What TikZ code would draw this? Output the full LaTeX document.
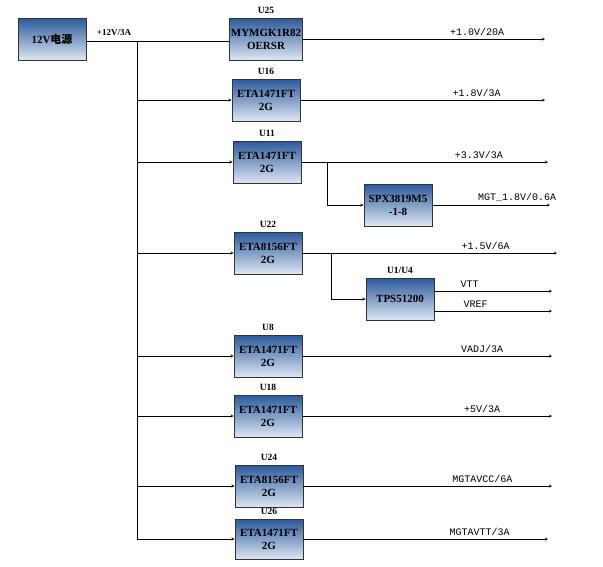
\documentclass[tikz,border=0pt]{standalone}
\usepackage{fontspec}
\setmainfont{Liberation Serif}
\newfontfamily\cjk{Noto Sans CJK SC}
\newfontfamily\labfont{Liberation Mono}
\usetikzlibrary{arrows}
\definecolor{chiptop}{HTML}{2B5A9B}
\definecolor{chipbot}{HTML}{DCE6F3}
\tikzset{
    x=1pt, y=-1pt,
    >=stealth, % small filled arrow heads
    chip/.style={draw=black!80, thick, minimum width=68pt, minimum height=42pt, inner sep=1pt,
        top color=chiptop, bottom color=chipbot, align=center, font=\bfseries\fontsize{11}{13}\selectfont},
    ref/.style={font=\bfseries\fontsize{9.5}{11}\selectfont, above},
    rail/.style={font=\labfont\fontsize{10}{11}\selectfont},
}
\begin{document}
\begin{tikzpicture}
\useasboundingbox (0,0) rectangle (603,566);
% source and bus
\node[chip] (src) at (52,39) {12V{\cjk 电源}};
\coordinate (bus) at (137,41);
\coordinate (busend) at (137,540);
\node[font=\bfseries\fontsize{9}{10}\selectfont] at (114,33) {+12V/3A};
\draw (src.east |- bus) -- (bus) -- (busend);
% regulators
\node[chip] (u25) at (266,39) {MYMGK1R82\\OERSR};
\node[chip] (u16) at (266,100) {ETA1471FT\\2G};
\node[chip] (u11) at (267,162) {ETA1471FT\\2G};
\node[chip] (u22) at (268,253) {ETA8156FT\\2G};
\node[chip] (u8) at (268,356) {ETA1471FT\\2G};
\node[chip] (u18) at (268,416) {ETA1471FT\\2G};
\node[chip] (u24) at (269,486) {ETA8156FT\\2G};
\node[chip, minimum height=40pt] (u26) at (269,539) {ETA1471FT\\2G};
\node[chip] (spx) at (398,205) {SPX3819M5\\-1-8};
\node[chip] (tps) at (400,299) {TPS51200};
\foreach \u/\t in {u25/U25, u16/U16, u11/U11, u22/U22, u8/U8, u18/U18, u24/U24, u26/U26, tps/{U1/U4}}
    \node[ref] at (\u.north) {\t};
% feeds from the bus
\draw (bus) -- (u25.west |- bus);
\foreach \u in {u16, u11, u22, u8, u18, u24, u26}
    \draw[->] (bus |- \u.west) -- (\u.west);
% outputs
\foreach \u/\x/\t in {u25/545/{+1.0V/20A}, u16/545/{+1.8V/3A}, u11/548/{+3.3V/3A}, spx/550/{MGT\_1.8V/0.6A},
    u22/557/{+1.5V/6A}, u8/552/{VADJ/3A}, u18/552/{+5V/3A}, u24/552/{MGTAVCC/6A}, u26/548/{MGTAVTT/3A}}{
    \coordinate (\u out) at (\x,0);
    \draw[->] (\u.east) -- (\u out |- \u.east) node[rail, pos=0.72, above] {\t};
}
\coordinate (vtt) at (552,291);
\coordinate (vref) at (552,311);
\draw[->] (tps.east |- vtt) -- (vtt) node[rail, pos=0.3, above] {VTT};
\draw[->] (tps.east |- vref) -- (vref) node[rail, pos=0.35, above] {VREF};
% second stage branches
\draw[->] (327,162) |- (spx.west);
\draw[->] (331,253) |- (tps.west);
\end{tikzpicture}
\end{document}
